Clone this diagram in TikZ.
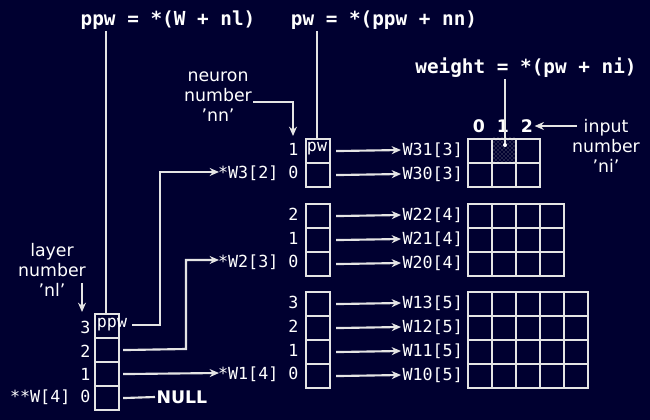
\documentclass[tikz,border=0pt]{standalone}
\usepackage{fontspec}
\setmainfont{DejaVu Sans}
\newfontfamily\monob{DejaVu Sans Mono}[BoldFont={DejaVu Sans Mono Bold}]
\usetikzlibrary{arrows.meta,patterns}
\definecolor{bg}{HTML}{000030}
\definecolor{ln}{HTML}{E4E4E4}
\begin{document}
\begin{tikzpicture}[x=0.75pt,y=-0.75pt,
  cell/.style={draw=ln,line width=1.6pt,minimum width=18pt,minimum height=18pt,inner sep=0pt,anchor=north west},
  gcell/.style={cell},
  lbl/.style={text=white,font=\monob\fontsize{12.5}{13}\selectfont,inner sep=1pt},
  wrd/.style={text=white,font=\fontsize{13}{15}\selectfont,inner sep=1pt,align=center},
  hdr/.style={text=white,font=\monob\bfseries\fontsize{14.5}{15}\selectfont,inner sep=1pt},
  con/.style={draw=ln,line width=1.6pt},
  arr/.style={con,-{Stealth[length=7pt,width=6pt]}}]
\fill[bg] (0,0) rectangle (650,420);
\useasboundingbox (0,0) rectangle (650,420);
% top headers
\node[hdr] (h1) at (168,20) {ppw = *(W + nl)};
\node[hdr] (h2) at (384,20) {pw = *(ppw + nn)};
\node[hdr] (h3) at (526,68) {weight = *(pw + ni)};
% layer array
\foreach \i/\y in {3/313,2/337,1/361,0/385}{
  \node[cell] (L\i) at (94,\y) {};
}
\node[lbl,anchor=east] (l3) at (92,327) {3};
\node[lbl,anchor=east] (l2) at (92,351) {2};
\node[lbl,anchor=east] (l1) at (92,374) {1};
\node[lbl,anchor=east] (l0) at (92,397) {**W[4] 0};
\node[lbl] (ppw) at (112,325) {ppw};
\coordinate (ppwtop) at (106,315);
\draw[con] (h1.south -| ppwtop) -- (ppwtop);
% layer label
\node[wrd] (nl) at (52,270) {layer\\number\\'nl'};
\coordinate (nla) at (82,283);
\draw[arr] (nla) -- (82,312);
% neuron arrays
\foreach \i/\y in {1/138,0/162}{\node[cell] (A\i) at (305,\y) {};}
\foreach \i/\y in {2/203,1/227,0/251}{\node[cell] (B\i) at (305,\y) {};}
\foreach \i/\y in {3/291,2/315,1/339,0/363}{\node[cell] (C\i) at (305,\y) {};}
\node[lbl] at (317,149) {pw};
\coordinate (pwtop) at (317,140);
\draw[con] (h2.south -| pwtop) -- (pwtop);
\node[lbl,anchor=east] at (300,149) {1};
\node[lbl,anchor=east] (t3) at (300,173) {*W3[2] 0};
\foreach \i/\y in {2/214,1/238}{\node[lbl,anchor=east] at (300,\y) {\i};}
\node[lbl,anchor=east] (t2) at (300,262) {*W2[3] 0};
\foreach \i/\y in {3/302,2/326,1/350}{\node[lbl,anchor=east] at (300,\y) {\i};}
\node[lbl,anchor=east] (t1) at (300,374) {*W1[4] 0};
% connectors from layer array
\draw[arr] (132,325) -- (160,325) -- (160,172) -- (219,172);
\draw[arr] (L2.east) ++(3,0) -- (186,349) -- (186,260) -- (219,260);
\draw[arr] (L1.east) ++(3,0) -- (219,373);
\node[lbl,font=\bfseries\fontsize{13}{14}\selectfont,anchor=west] (null) at (155,397) {NULL};
\draw[con] (L0.east) ++(3,0) -- (null.west);
% neuron label
\node[wrd] (nn) at (218,97) {neuron\\number\\'nn'};
\draw[arr] (253,102) -- (293,102) -- (293,136);
% weight rows
\foreach \n/\y/\t in {A1/150/W31[3],A0/174/W30[3],B2/215/W22[4],B1/239/W21[4],B0/263/W20[4],C3/303/W13[5],C2/327/W12[5],C1/351/W11[5],C0/375/W10[5]}{
  \node[lbl,anchor=west] (w\n) at (401,\y) {\t};
  \draw[arr] (\n.east) ++(5,0) -- (w\n.west);
}
% grids
\fill[pattern=crosshatch dots,pattern color=gray!80] (491,138) rectangle (515,162);
\foreach \c in {0,1,2}\foreach \r in {0,1}{\node[gcell] at (467+24*\c,138+24*\r) {};}
\foreach \c in {0,...,3}\foreach \r in {0,1,2}{\node[gcell] at (467+24*\c,203+24*\r) {};}
\foreach \c in {0,...,4}\foreach \r in {0,...,3}{\node[gcell] at (467+24*\c,291+24*\r) {};}
\foreach \c in {0,1,2}{\node[lbl,font=\bfseries\fontsize{13}{14}\selectfont] (c\c) at (479+24*\c,126) {\c};}
\coordinate (wt) at (505,145);
\draw[con] (h3.south -| wt) -- (wt);
\fill[white] (wt) circle (2);
\node[wrd] (ni) at (606,146) {input\\number\\'ni'};
\draw[arr] (577,126) -- (c2.east);
\end{tikzpicture}
\end{document}
